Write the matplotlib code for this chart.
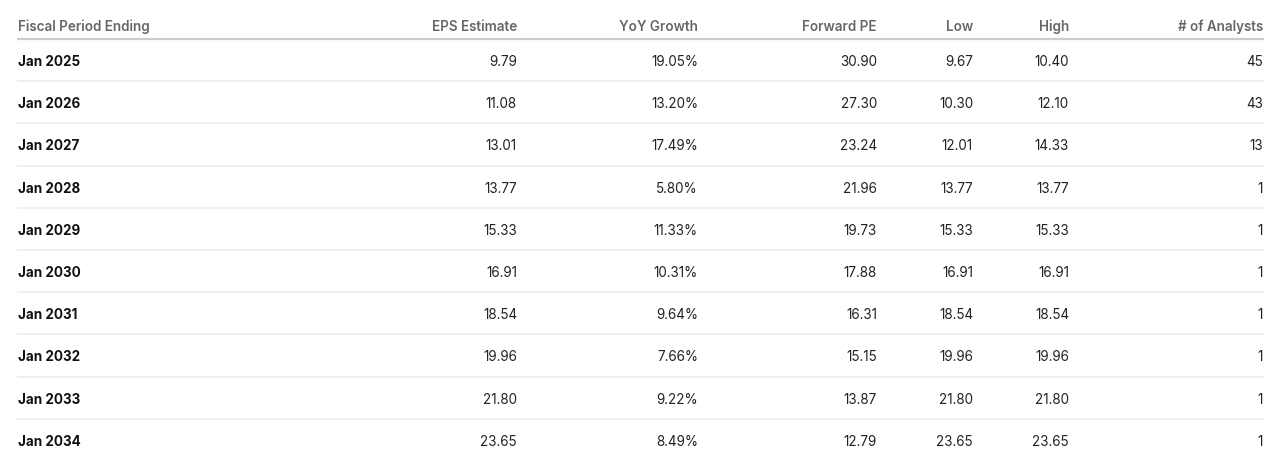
import matplotlib
matplotlib.use("Agg")
import matplotlib.pyplot as plt

plt.rcParams['font.family'] = ['Inter', 'DejaVu Sans']

# table data
periods = ["Jan 2025", "Jan 2026", "Jan 2027", "Jan 2028", "Jan 2029",
           "Jan 2030", "Jan 2031", "Jan 2032", "Jan 2033", "Jan 2034"]
eps = ["9.79", "11.08", "13.01", "13.77", "15.33", "16.91", "18.54", "19.96", "21.80", "23.65"]
yoy = ["19.05%", "13.20%", "17.49%", "5.80%", "11.33%", "10.31%", "9.64%", "7.66%", "9.22%", "8.49%"]
fwd_pe = ["30.90", "27.30", "23.24", "21.96", "19.73", "17.88", "16.31", "15.15", "13.87", "12.79"]
low = ["9.67", "10.30", "12.01", "13.77", "15.33", "16.91", "18.54", "19.96", "21.80", "23.65"]
high = ["10.40", "12.10", "14.33", "13.77", "15.33", "16.91", "18.54", "19.96", "21.80", "23.65"]
analysts = ["45", "43", "13", "1", "1", "1", "1", "1", "1", "1"]

headers = ["Fiscal Period Ending", "EPS Estimate", "YoY Growth", "Forward PE",
           "Low", "High", "# of Analysts"]
columns = [periods, eps, yoy, fwd_pe, low, high, analysts]

W, H = 1280, 466
fig = plt.figure(figsize=(W / 100, H / 100), dpi=100)
ax = fig.add_axes([0, 0, 1, 1])
ax.set_xlim(0, W)
ax.set_ylim(H, 0)
ax.axis('off')

# x anchor per column (first left aligned, others right aligned)
col_x = [18, 517, 698, 877, 973, 1069, 1263]
left, right = 17, 1264
head_y = 27
row0 = 62
row_h = 42.2

for j, h in enumerate(headers):
    ax.text(col_x[j], head_y, h, ha='left' if j == 0 else 'right', va='center',
            fontsize=9.7, color='#666666', fontweight='semibold')
ax.plot([left, right], [38.5, 38.5], color='#c9cdd0', lw=1.6, solid_capstyle='butt')

for i in range(len(periods)):
    y = row0 + i * row_h
    for j, col in enumerate(columns):
        if j == 0:
            ax.text(col_x[j], y, col[i], ha='left', va='center', fontsize=9.7,
                    color='#111111', fontweight='bold')
        else:
            ax.text(col_x[j], y, col[i], ha='right', va='center', fontsize=9.7,
                    color='#222222')
    if i < len(periods) - 1:
        ly = (row0 - 2) + i * row_h + row_h / 2
        ax.plot([left, right], [ly, ly], color='#ececec', lw=1.2, solid_capstyle='butt')

fig.savefig("out.png", dpi=100, facecolor='white')
